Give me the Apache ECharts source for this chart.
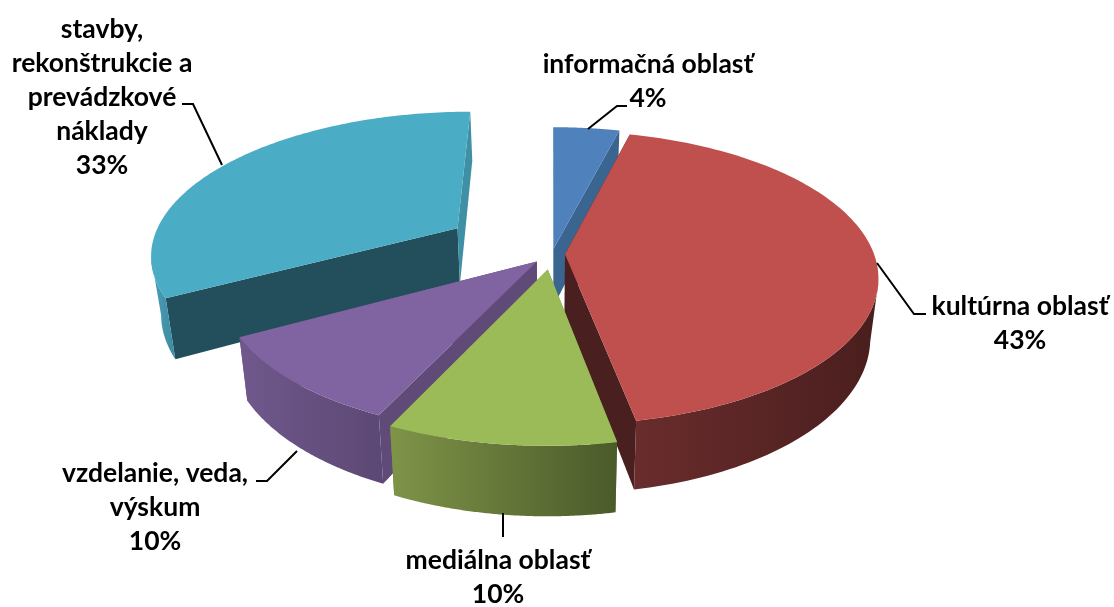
<!DOCTYPE html>
<html>
<head>
<meta charset="utf-8">
<title>Pie</title>
<script src="https://cdn.jsdelivr.net/npm/echarts@6/dist/echarts.min.js"></script>
<style>
html, body { margin: 0; padding: 0; background: #fff; }
#chart { width: 1114px; height: 607px; }
</style>
</head>
<body>
<div id="chart"></div>
<script>
// data, clockwise from 12 o'clock
var categories = ['informačná oblasť', 'kultúrna oblasť', 'mediálna oblasť', 'vzdelanie, veda,\nvýskum', 'stavby,\nrekonštrukcie a\nprevádzkové\nnáklady'];
var values = [4, 43, 10, 10, 33];

// look of the slices
var topColors = ['#4f81bd', '#c0504d', '#9bbb59', '#8064a2', '#4bacc6'];
var startFaceColors = ['#3a6590', '#4a1f1f', '#6d8240', '#5f4a78', '#234e5c'];
var endFaceColors = ['#3a6590', '#4a1f1f', '#6d8240', '#5f4a78', '#3f8fa5'];
var wallLeftColors = ['#3a6590', '#6a2c2c', '#7f9448', '#70588c', '#4a9fb8'];
var wallRightColors = ['#3a6590', '#4a1e1e', '#4a5a2a', '#5c4874', '#3c8aa0'];
var explode = [11, 13, 33, 22, 113];
var drawOrder = [4, 0, 3, 1, 2];

// label anchors and leader lines
var labelAnchors = [[648, 47], [1020, 289], [498, 543], [155, 456], [102, 12]];
var leaderLines = [
    [[588, 129], [617, 106], [627, 106]],
    [[877, 263], [914, 314], [926, 314]],
    [[503, 513], [503, 537]],
    [[297, 451], [267, 481], [256, 481]],
    [[222, 165], [193, 104], [182, 104]]
];

// fake 3d pie
var cx = 552, cy = 254, R = 309;
var squash = 0.462, persp = 0.16, depth = 58, bottomScale = 0.975;

function project(wx, wy, low) {
    var s = 1 / (1 + persp * wy / R);
    var b = low ? bottomScale : 1;
    return [cx + wx * s * b, cy - wy * squash * s + (low ? depth * s : 0)];
}

var total = values.reduce(function (a, b) { return a + b; }, 0);
function sliceStart(i) {
    var sum = 0;
    for (var k = 0; k < i; k++) sum += values[k];
    return sum / total * Math.PI * 2;
}

function renderSlice(params, api) {
    var i = api.value(1);
    var a = sliceStart(i);
    var b = a + api.value(0) / total * Math.PI * 2;
    var mid = (a + b) / 2;
    var ox = explode[i] * Math.sin(mid);
    var oy = explode[i] * Math.cos(mid);

    function rim(t, low) {
        return project(ox + R * Math.sin(t), oy + R * Math.cos(t), low);
    }
    var apex = project(ox, oy, false);
    var apexLow = project(ox, oy, true);

    var steps = 120, topPts = [apex], wallTop = [], wallLow = [];
    for (var n = 0; n <= steps; n++) {
        var t = a + (b - a) * n / steps;
        topPts.push(rim(t, false));
        // only the part of the rim that looks at the viewer gets a wall
        var facing = Math.cos(t) * (-R / persp - oy) + Math.sin(t) * (-ox) > R;
        if (facing) {
            wallTop.push(rim(t, false));
            wallLow.unshift(rim(t, true));
        }
    }

    var children = [
        { type: 'polygon', shape: { points: [apex, rim(a, false), rim(a, true), apexLow] }, style: { fill: startFaceColors[i] } },
        { type: 'polygon', shape: { points: [apex, rim(b, false), rim(b, true), apexLow] }, style: { fill: endFaceColors[i] } }
    ];
    if (wallTop.length) {
        children.push({
            type: 'polygon',
            shape: { points: wallTop.concat(wallLow) },
            style: {
                fill: {
                    type: 'linear', x: 0, y: 0, x2: 1, y2: 0,
                    colorStops: [
                        { offset: 0, color: wallLeftColors[i] },
                        { offset: 1, color: wallRightColors[i] }
                    ]
                }
            }
        });
    }
    children.push({ type: 'polygon', shape: { points: topPts }, style: { fill: topColors[i] } });
    return { type: 'group', children: children };
}

var graphics = [];
categories.forEach(function (name, i) {
    graphics.push({
        type: 'text',
        x: labelAnchors[i][0],
        y: labelAnchors[i][1],
        z: 10,
        style: {
            text: name + '\n' + values[i] + '%',
            align: 'center',
            verticalAlign: 'top',
            font: 'bold 26.5px Lato',
            lineHeight: 34,
            fill: '#000'
        }
    });
    graphics.push({
        type: 'polyline',
        z: 10,
        shape: { points: leaderLines[i] },
        style: { stroke: '#000', lineWidth: 2, fill: null }
    });
});

var chart = echarts.init(document.getElementById('chart'));
chart.setOption({
    backgroundColor: '#fff',
    animation: false,
    graphic: graphics,
    series: [{
        type: 'custom',
        coordinateSystem: 'none',
        renderItem: renderSlice,
        silent: true,
        data: drawOrder.map(function (i) { return [values[i], i]; })
    }]
});
</script>
</body>
</html>
